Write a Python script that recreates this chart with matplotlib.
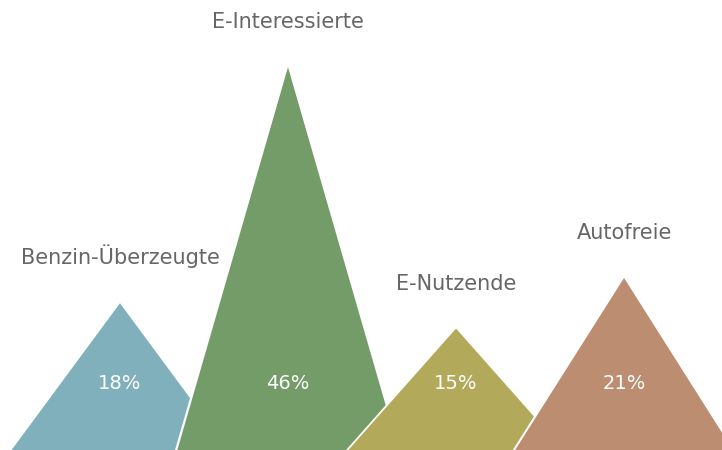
import numpy as np
import matplotlib
matplotlib.use("Agg")
import matplotlib.pyplot as plt
from matplotlib.patches import Polygon

categories = ["Benzin-Überzeugte", "E-Interessierte", "E-Nutzende", "Autofreie"]
values = [18, 46, 15, 21]
value_labels = ["18%", "46%", "15%", "21%"]
colors = ["#7FB0BB", "#739C69", "#B2AA5A", "#BC8D71"]

fig = plt.figure(figsize=(7.22, 4.5), dpi=100)
ax = fig.add_axes([0, 0, 1, 1])

half = 0.667  # half base width in category units
gap = 0.014   # white seam, shifted copy behind each mountain

for i, (name, v) in enumerate(zip(categories, values)):
    seam = Polygon([(i - half - gap, 0), (i - gap, v), (i + half - gap, 0)],
                   closed=True, facecolor="white", edgecolor="none",
                   zorder=2 + 2 * i)
    tri = Polygon([(i - half, 0), (i, v), (i + half, 0)], closed=True,
                  facecolor=colors[i], edgecolor="none", zorder=3 + 2 * i)
    ax.add_patch(seam)
    ax.add_patch(tri)
    ax.text(i, 7.8, value_labels[i], ha="center", va="baseline",
            color="white", fontsize=14, zorder=20)
    ax.text(i, v + 4.6, name, ha="center", va="baseline",
            color="#666666", fontsize=15, zorder=20)

ax.set_xlim(-0.714, 3.583)
ax.set_ylim(0.59, 53.97)
ax.axis("off")

fig.savefig("out.png", dpi=100)
